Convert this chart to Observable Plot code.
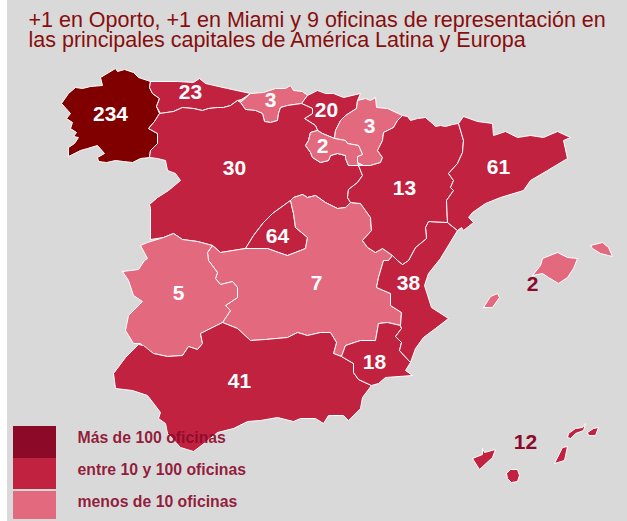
<!DOCTYPE html>
<html><head><meta charset="utf-8">
<script src="https://cdn.jsdelivr.net/npm/d3@7"></script>
<script src="https://cdn.jsdelivr.net/npm/@observablehq/plot@0.6"></script>
<style>html,body{margin:0;padding:0;background:#fff}#c{margin-left:7px;width:620px;height:521px}svg{display:block}</style>
</head><body><div id="c"></div>
<script>
const titleLines = ["+1 en Oporto, +1 en Miami y 9 oficinas de representación en", "las principales capitales de América Latina y Europa"];
const legendLabels = ["Más de 100 oficinas", "entre 10 y 100 oficinas", "menos de 10 oficinas"];
const legendColors = ["#8c0a28", "#c0223f", "#e3697f"];
const tiers = ["alto", "medio", "bajo"];
const tierColors = ["#800000", "#c0223f", "#e3697f"];

const galicia = [[100,77],[115,68],[117,71],[124,69],[133,72],[138,77],[150,81],[149,87],[152,93],[159,98],[156,106],[159,113],[154,121],[148,128],[157,133],[157,143],[150,150],[149,157],[140,158],[132,162],[123,161],[115,160],[106,162],[98,161],[97,157],[104,153],[97,145],[87,148],[80,150],[68,156],[68,147],[74,143],[78,137],[73,136],[76,132],[70,128],[72,122],[66,118],[70,113],[61,103],[68,93],[75,87],[82,88],[90,86],[102,85]];
const asturias = [[150,81],[177,81],[193,82],[199,78],[205,83],[227,88],[250,93],[241,99],[237,100],[230,105],[223,107],[217,107],[208,108],[202,110],[193,108],[182,107],[173,111],[160,113],[156,106],[159,98],[152,93],[149,87]];
const cantabria = [[240,102],[250,93],[263,92],[275,88],[285,88],[290,85],[293,90],[302,91],[307,95],[301,103],[287,105],[280,107],[278,113],[277,120],[270,122],[264,121],[262,113],[255,110],[245,109]];
const paisVasco = [[307,95],[317,90],[325,93],[333,93],[343,97],[360,93],[357,100],[356,108],[345,115],[340,120],[335,130],[334,138],[322,133],[317,130],[315,125],[304,118],[312,113],[312,108],[301,103]];
const navarra = [[357,100],[365,98],[370,100],[375,97],[376,107],[387,108],[402,115],[397,120],[393,127],[383,132],[382,140],[377,150],[382,157],[380,162],[370,165],[363,165],[357,162],[357,156],[362,154],[358,145],[347,143],[345,140],[334,138],[335,130],[340,120],[345,115],[356,108]];
const rioja = [[310,132],[317,130],[322,133],[334,138],[345,140],[347,143],[358,145],[362,154],[357,156],[357,162],[358,165],[348,165],[345,158],[345,155],[337,153],[330,155],[328,160],[320,162],[312,157],[310,152],[305,145],[308,140]];
const castillaLeon = [[149,157],[150,150],[157,143],[157,133],[148,128],[154,121],[159,113],[173,111],[182,107],[193,108],[202,110],[208,108],[217,107],[223,107],[230,105],[237,100],[240,102],[245,109],[255,110],[262,113],[264,121],[270,122],[277,120],[278,113],[280,107],[287,105],[301,103],[312,108],[312,113],[304,118],[315,125],[317,130],[310,132],[308,140],[305,145],[310,152],[312,157],[320,162],[328,160],[330,155],[337,153],[345,155],[345,158],[348,165],[358,165],[362,175],[357,182],[348,189],[347,197],[350,202],[345,207],[337,208],[325,202],[315,195],[307,197],[302,194],[293,197],[290,200],[272,213],[263,222],[253,235],[245,248],[220,252],[212,245],[197,241],[182,239],[173,233],[163,237],[150,239],[150,208],[149,204],[157,197],[168,190],[180,180],[175,173],[167,170],[165,160],[157,158]];
const madrid = [[290,200],[293,213],[295,227],[307,237],[305,248],[300,250],[287,255],[278,252],[267,248],[245,248],[253,235],[263,222],[272,213]];
const castillaMancha = [[245,248],[267,248],[278,252],[287,255],[300,250],[305,248],[307,237],[295,227],[293,213],[290,200],[293,197],[302,194],[307,197],[315,195],[325,202],[337,208],[345,207],[350,202],[360,203],[365,210],[370,217],[371,230],[362,240],[367,247],[375,252],[382,248],[392,255],[388,260],[383,260],[378,277],[376,287],[390,293],[390,305],[401,312],[400,325],[387,322],[378,323],[375,340],[360,340],[345,345],[341,356],[333,353],[336,342],[330,332],[320,332],[307,335],[297,332],[287,337],[265,339],[250,340],[237,328],[222,322],[230,310],[225,305],[237,297],[237,287],[232,281],[220,284],[215,278],[217,272],[208,260],[207,252],[212,245],[220,252]];
const extremadura = [[122,271],[138,269],[144,260],[147,258],[140,245],[147,242],[163,237],[173,233],[182,239],[197,241],[212,245],[207,252],[208,260],[217,272],[215,278],[220,284],[232,281],[237,287],[237,297],[225,305],[230,310],[222,322],[200,333],[202,343],[197,349],[188,346],[182,355],[167,356],[153,353],[145,348],[140,343],[133,343],[125,330],[128,315],[142,301],[133,295],[128,280]];
const andalucia = [[222,322],[237,328],[250,340],[265,339],[287,337],[297,332],[307,335],[320,332],[330,332],[336,342],[333,353],[341,356],[353,363],[353,372],[358,379],[371,385],[362,397],[360,408],[348,420],[343,415],[328,415],[323,423],[315,418],[300,418],[293,421],[277,417],[260,420],[247,421],[233,428],[217,432],[205,442],[193,451],[180,447],[167,433],[165,423],[158,418],[160,412],[147,395],[132,390],[115,388],[113,373],[125,357],[138,344],[143,345],[153,353],[167,356],[182,355],[188,346],[197,349],[202,343],[200,333]];
const murcia = [[341,356],[345,345],[360,340],[375,340],[378,323],[387,322],[400,325],[401,328],[395,336],[401,342],[399,350],[410,362],[405,370],[412,375],[385,377],[378,383],[371,385],[358,379],[353,372],[353,363]];
const valencia = [[457,230],[440,258],[428,273],[424,285],[431,307],[448,318],[435,328],[423,337],[415,348],[410,362],[399,350],[401,342],[395,336],[401,328],[400,325],[401,312],[390,305],[390,293],[376,287],[378,277],[383,260],[388,260],[392,255],[397,260],[402,264],[408,260],[415,247],[426,238],[425,227],[428,221],[447,222]];
const aragon = [[358,165],[370,165],[380,162],[382,157],[377,150],[382,140],[383,132],[393,127],[397,120],[402,115],[407,116],[410,120],[417,118],[425,117],[432,123],[435,126],[440,125],[445,126],[452,124],[458,123],[463,140],[462,152],[457,163],[448,173],[453,180],[450,187],[453,190],[446,200],[447,222],[428,221],[425,227],[426,238],[415,247],[408,260],[402,264],[397,260],[392,255],[382,248],[375,252],[367,247],[362,240],[371,230],[370,217],[365,210],[360,203],[350,202],[347,197],[348,189],[357,182],[362,175]];
const cataluna = [[463,116],[477,121],[492,123],[493,135],[505,131],[517,137],[530,135],[543,137],[557,131],[570,137],[563,140],[567,158],[547,170],[530,180],[523,190],[500,197],[485,203],[472,212],[468,217],[473,222],[463,230],[461,227],[457,230],[447,222],[446,200],[453,190],[450,187],[453,180],[448,173],[457,163],[462,152],[463,140],[458,123]];
const menorca = [[590,245],[602,242],[608,247],[612,256],[600,253],[592,248]];
const mallorca = [[532,275],[540,265],[542,258],[557,252],[567,257],[577,258],[573,268],[567,277],[558,283],[548,277],[542,273]];
const ibiza = [[483,307],[490,296],[497,293],[499,297],[492,307]];
const tenerife = [[472,458],[482,454],[482,448],[484,452],[495,449],[492,457],[479,469]];
const granCanaria = [[506,473],[510,469],[517,469],[519,475],[517,481],[511,482],[507,478]];
const fuerteventura = [[554,463],[562,447],[567,446],[564,460]];
const lanzarote = [[568,433],[575,428],[582,427],[585,423],[583,430],[575,433],[570,438],[567,437]];
const graciosa = [[587,432],[593,428],[598,427],[595,435],[588,435]];

const regionShapes = [
  ["galicia", "alto", galicia], ["asturias", "medio", asturias], ["cantabria", "bajo", cantabria],
  ["paisVasco", "medio", paisVasco], ["castillaLeon", "medio", castillaLeon], ["navarra", "bajo", navarra],
  ["rioja", "bajo", rioja], ["madrid", "medio", madrid], ["castillaMancha", "bajo", castillaMancha],
  ["extremadura", "bajo", extremadura], ["andalucia", "medio", andalucia], ["murcia", "medio", murcia],
  ["valencia", "medio", valencia], ["aragon", "medio", aragon], ["cataluna", "medio", cataluna],
  ["menorca", "bajo", menorca], ["mallorca", "bajo", mallorca], ["ibiza", "bajo", ibiza],
  ["tenerife", "medio", tenerife], ["granCanaria", "medio", granCanaria], ["fuerteventura", "medio", fuerteventura],
  ["lanzarote", "medio", lanzarote], ["graciosa", "medio", graciosa]
];
const outlineRows = regionShapes.flatMap(([id, tier, pts]) =>
  [...pts, pts[0]].map(([x, y]) => ({id, tier, x, y})));

const officeCounts = [234, 23, 3, 20, 2, 3, 30, 13, 61, 64, 7, 38, 5, 41, 18];
const countX = [110, 190, 270, 326, 322, 369, 234, 404, 498, 277, 316, 408, 178, 239, 374];
const countY = [114, 92, 100, 110, 146, 126, 168, 188, 167, 236, 283, 283, 293, 381, 362];
const islandCounts = [2, 12];
const islandX = [532, 525];
const islandY = [284, 442];

const font = "'Liberation Sans', Arial, sans-serif";
const swatchTop = [426, 458, 491];
const swatchBottom = [458, 489, 519];
const legendY = [437, 469, 501];

const chart = Plot.plot({
  width: 620, height: 521, margin: 0,
  style: {background: "#d9d9d9", fontFamily: font},
  x: {domain: [7, 627], range: [0, 620], axis: null},
  y: {domain: [0, 521], range: [0, 521], axis: null},
  color: {domain: tiers, range: tierColors},
  marks: [
    Plot.line(outlineRows, {x: "x", y: "y", z: "id", fill: "tier", stroke: "#fff", strokeWidth: 1, strokeLinejoin: "round"}),
    Plot.text(titleLines, {x: () => 28, y: (d, i) => 20 + i * 20, text: d => d, textAnchor: "start", fontSize: 21.5, fill: "#880d0d", fontFamily: font}),
    Plot.rect(legendColors, {x1: () => 13, x2: () => 56, y1: (d, i) => swatchTop[i], y2: (d, i) => swatchBottom[i], fill: d => d}),
    Plot.text(legendLabels, {x: () => 77, y: (d, i) => legendY[i], text: d => d, textAnchor: "start", fontSize: 15.8, fontWeight: "bold", fill: "#8c0a2c", fillOpacity: 0.92, fontFamily: font}),
    Plot.text(officeCounts, {x: (d, i) => countX[i], y: (d, i) => countY[i], text: d => String(d), fontSize: 21, fontWeight: "bold", fill: "#fff", fontFamily: font}),
    Plot.text(islandCounts, {x: (d, i) => islandX[i], y: (d, i) => islandY[i], text: d => String(d), fontSize: 21, fontWeight: "bold", fill: "#8c0a2c", fontFamily: font})
  ]
});
document.getElementById("c").appendChild(chart);
</script></body></html>
